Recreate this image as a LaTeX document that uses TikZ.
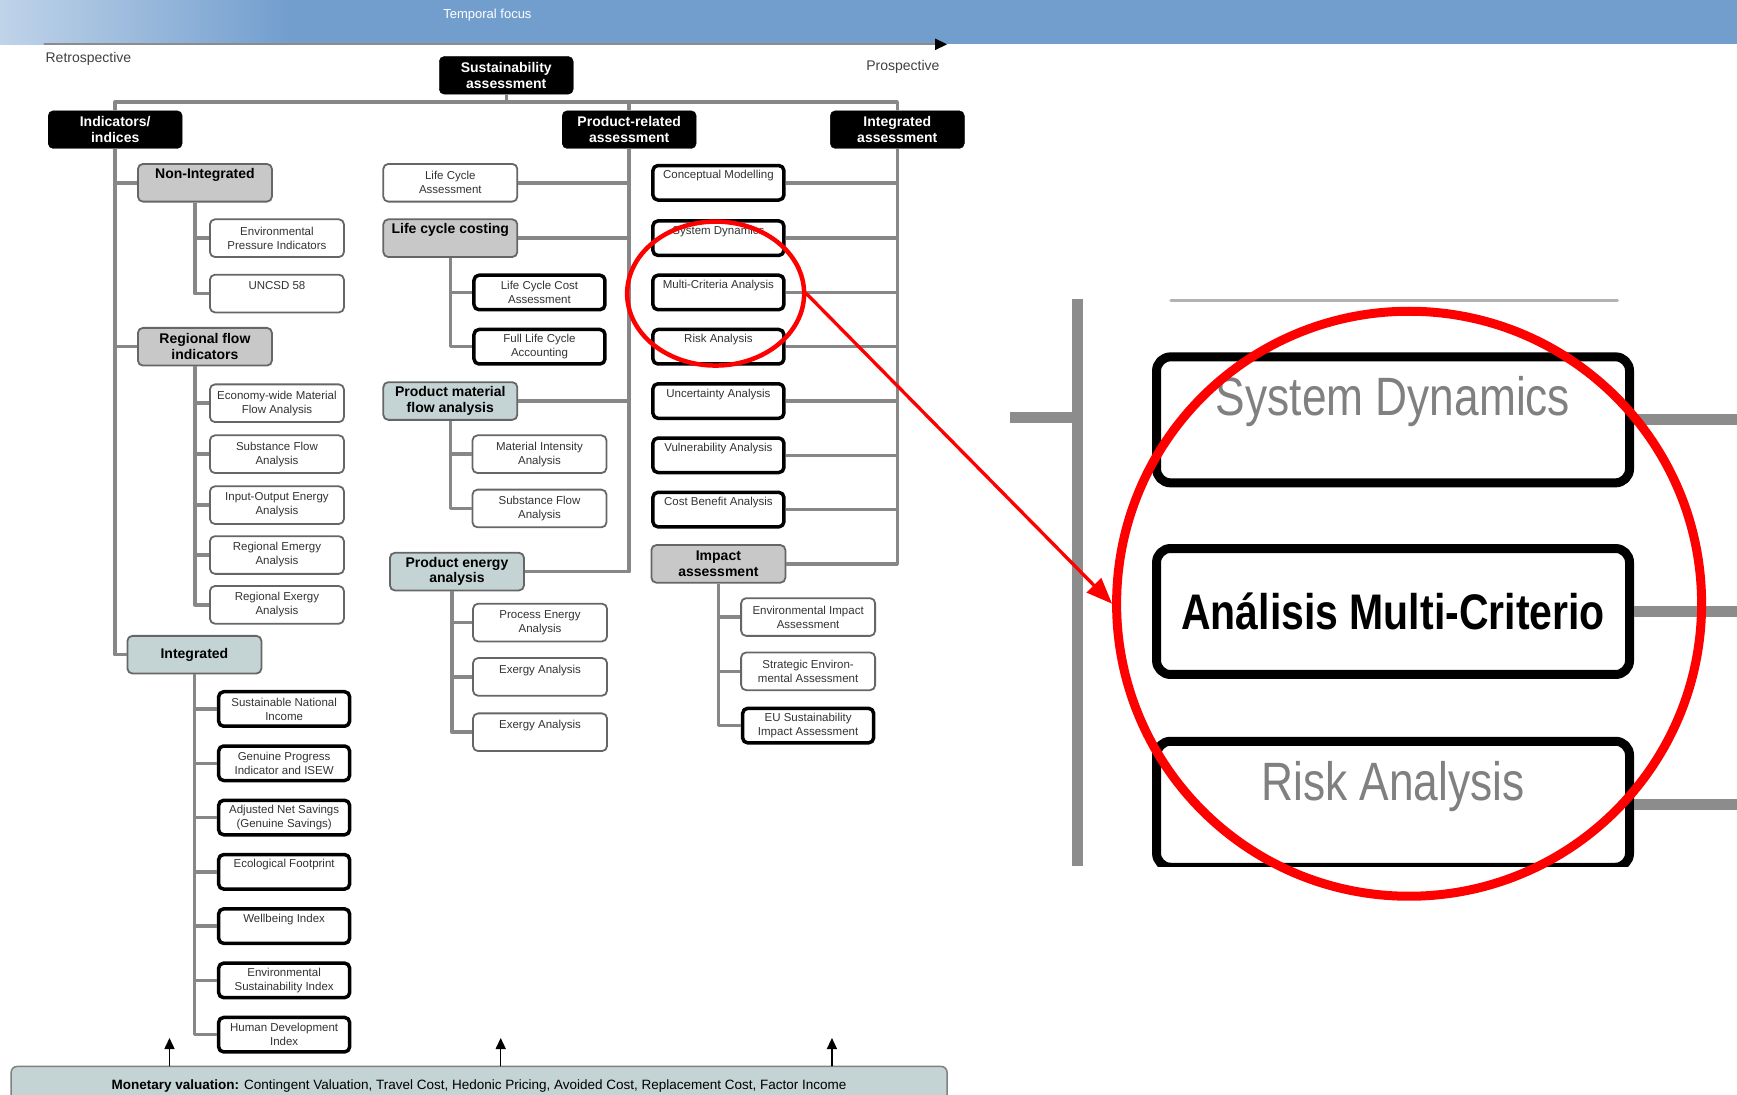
\documentclass[tikz,border=0pt]{standalone}
\usepackage{fontspec}
\setmainfont{Liberation Sans}
\newfontfamily\narrowsans[FakeStretch=0.82]{Liberation Sans}
\usetikzlibrary{arrows.meta}
\usetikzlibrary{positioning}
\usetikzlibrary{shapes.geometric}
\definecolor{skyblue}{RGB}{114,158,206}
\definecolor{boxgray}{RGB}{200,200,200}
\definecolor{boxteal}{RGB}{196,212,212}
\definecolor{linegray}{RGB}{135,135,135}

\begin{document}
\begin{tikzpicture}[line cap=round,line join=round,x=1.1078pt,y=-1.1078pt,
  hdr/.style={draw=black,fill=black,rounded corners=5pt,text=white,align=center,font=\bfseries\fontsize{14}{16.5}\selectfont,minimum width=134pt,minimum height=37.7pt,inner sep=1pt},
  lbox/.style={draw=black!60,line width=1.8pt,fill=white,rounded corners=5pt,text=black!80,align=center,font=\fontsize{11.5}{14}\selectfont,minimum width=134pt,minimum height=37.7pt,inner sep=1pt},
  kbox/.style={lbox,draw=black,line width=3.5pt,minimum width=131pt,minimum height=34.5pt},
  gbox/.style={lbox,fill=boxgray,text=black,font=\bfseries\fontsize{14}{15.5}\selectfont},
  tbox/.style={gbox,fill=boxteal},
  ontop/.style={text depth=16pt},
  ontopb/.style={text depth=18.5pt},
  conn/.style={draw=linegray,line width=3.5pt,line cap=butt},
  upar/.style={line width=1.5pt,-{Triangle[length=11pt,width=10pt]}},
  zbox/.style={draw=black,line width=9pt,fill=white,rounded corners=14pt,minimum width=473pt,minimum height=126pt,inner sep=0pt},
  zconn/.style={draw=black!45,line width=11pt,line cap=butt}]
\clip(0,0) rectangle (1568,988);
\fill[skyblue] (0,0) rectangle (1568,40);
\shade[left color=white!55!skyblue,right color=skyblue,draw=none] (0,0) rectangle (260,40);
\node[font=\fontsize{13}{15}\selectfont,text=white] (tfocus) at (440,14) {Temporal focus};
\coordinate (tl0) at (40,40);
\coordinate (tl1) at (855,40);
\draw[line width=2pt,black!45,-{Triangle[length=12pt,width=11pt,color=black]}] (tl0) -- (tl1);
\node[font=\fontsize{14}{16}\selectfont,text=black!75,anchor=west] (retro) at (38,53) {Retrospective};
\node[font=\fontsize{14}{16}\selectfont,text=black!75] (prosp) at (815,60) {Prospective};

\node[hdr] (sust) at (457,68) {Sustainability\\assessment};
\node[hdr] (ind) at (104,117) {Indicators/\\indices};
\node[hdr] (prod) at (568,117) {Product-related\\assessment};
\node[hdr] (inta) at (810,117) {Integrated\\assessment};
\coordinate (bus) at (457,92);
\draw[conn] (sust.south) -- (bus);
\draw[conn] (ind.north) |- (bus) -| (inta.north);
\draw[conn] (prod.north) -- (prod.north |- bus);

\node[gbox,ontopb] (nonint) at (185,165) {Non-Integrated};
\node[lbox] (epi) at (250,215) {Environmental\\Pressure Indicators};
\node[lbox,ontop] (uncsd) at (250,265) {UNCSD 58};
\node[gbox] (rfi) at (185,313) {Regional flow\\indicators};
\node[lbox] (ewmfa) at (250,364) {Economy-wide Material\\Flow Analysis};
\node[lbox] (sfa) at (250,410) {Substance Flow\\Analysis};
\node[lbox] (ioea) at (250,456) {Input-Output Energy\\Analysis};
\node[lbox] (rema) at (250,501) {Regional Emergy\\Analysis};
\node[lbox] (rexa) at (250,546) {Regional Exergy\\Analysis};
\node[tbox] (integ) at (175.5,591) {Integrated};
\node[kbox] (sni) at (256.5,640) {Sustainable National\\Income};
\node[kbox] (gpi) at (256.5,689) {Genuine Progress\\Indicator and ISEW};
\node[kbox] (ans) at (256.5,738) {Adjusted Net Savings\\(Genuine Savings)};
\node[kbox,ontop] (ef) at (256.5,787) {Ecological Footprint};
\node[kbox,ontop] (wbi) at (256.5,836) {Wellbeing Index};
\node[kbox] (esi) at (256.5,885) {Environmental\\Sustainability Index};
\node[kbox] (hdi) at (256.5,934) {Human Development\\Index};
\draw[conn] (ind.south) |- (integ.west);
\draw[conn] (ind.south |- nonint.west) -- (nonint.west);
\draw[conn] (ind.south |- rfi.west) -- (rfi.west);
\coordinate (nib) at ([xshift=-10pt]nonint.south);
\draw[conn] (nib) |- (uncsd.west);
\draw[conn] (nib |- epi.west) -- (epi.west);
\coordinate (rib) at ([xshift=-10pt]rfi.south);
\draw[conn] (rib) |- (rexa.west);
\draw[conn] (rib |- ewmfa.west) -- (ewmfa.west);
\draw[conn] (rib |- sfa.west) -- (sfa.west);
\draw[conn] (rib |- ioea.west) -- (ioea.west);
\draw[conn] (rib |- rema.west) -- (rema.west);
\draw[conn] (integ.south) |- (hdi.west);
\draw[conn] (integ.south |- sni.west) -- (sni.west);
\draw[conn] (integ.south |- gpi.west) -- (gpi.west);
\draw[conn] (integ.south |- ans.west) -- (ans.west);
\draw[conn] (integ.south |- ef.west) -- (ef.west);
\draw[conn] (integ.south |- wbi.west) -- (wbi.west);
\draw[conn] (integ.south |- esi.west) -- (esi.west);

\node[lbox] (lca) at (406.5,165) {Life Cycle\\Assessment};
\node[gbox,ontopb] (lcc) at (406.5,215) {Life cycle costing};
\node[kbox] (lcca) at (487,264) {Life Cycle Cost\\Assessment};
\node[kbox] (flca) at (487,313) {Full Life Cycle\\Accounting};
\node[tbox] (pmfa) at (406.5,362) {Product material\\flow analysis};
\node[lbox] (mia) at (487,410) {Material Intensity\\Analysis};
\node[lbox] (psfa) at (487,459) {Substance Flow\\Analysis};
\node[tbox] (pea) at (412.5,516) {Product energy\\analysis};
\node[lbox] (pena) at (487.5,562) {Process Energy\\Analysis};
\node[lbox,ontop] (exa) at (487.5,611) {Exergy Analysis};
\node[lbox,ontop] (exb) at (487.5,661) {Exergy Analysis};
\draw[conn] (prod.south) |- (pea.east);
\draw[conn] (lca.east) -- (lca.east -| prod.south);
\draw[conn] (lcc.east) -- (lcc.east -| prod.south);
\draw[conn] (pmfa.east) -- (pmfa.east -| prod.south);
\draw[conn] (lcc.south) |- (flca.west);
\draw[conn] (lcc.south |- lcca.west) -- (lcca.west);
\draw[conn] (pmfa.south) |- (psfa.west);
\draw[conn] (pmfa.south |- mia.west) -- (mia.west);
\coordinate (peb) at ([xshift=-5pt]pea.south);
\draw[conn] (peb) |- (exb.west);
\draw[conn] (peb |- pena.west) -- (pena.west);
\draw[conn] (peb |- exa.west) -- (exa.west);

\node[kbox,ontop] (cm) at (648.5,165) {Conceptual Modelling};
\node[kbox,ontop] (sd) at (648.5,215) {System Dynamics};
\node[kbox,ontop] (mca) at (648.5,264) {Multi-Criteria Analysis};
\node[kbox,ontop] (ra) at (648.5,313) {Risk Analysis};
\node[kbox,ontop] (ua) at (648.5,362) {Uncertainty Analysis};
\node[kbox,ontop] (va) at (648.5,411) {Vulnerability Analysis};
\node[kbox,ontop] (cba) at (648.5,460) {Cost Benefit Analysis};
\node[gbox] (ia) at (648.5,509) {Impact\\assessment};
\node[lbox] (eia) at (729.5,557) {Environmental Impact\\Assessment};
\node[lbox] (sea) at (729.5,606) {Strategic Environ-\\mental Assessment};
\node[kbox] (eusia) at (729.5,655) {EU Sustainability\\Impact Assessment};
\draw[conn] (inta.south) |- (ia.east);
\draw[conn] (cm.east) -- (cm.east -| inta.south);
\draw[conn] (sd.east) -- (sd.east -| inta.south);
\draw[conn] (mca.east) -- (mca.east -| inta.south);
\draw[conn] (ra.east) -- (ra.east -| inta.south);
\draw[conn] (ua.east) -- (ua.east -| inta.south);
\draw[conn] (va.east) -- (va.east -| inta.south);
\draw[conn] (cba.east) -- (cba.east -| inta.south);
\draw[conn] (ia.south) |- (eusia.west);
\draw[conn] (ia.south |- eia.west) -- (eia.west);
\draw[conn] (ia.south |- sea.west) -- (sea.west);

\node[draw=black!50,line width=1.5pt,fill=boxteal,rounded corners=6pt,anchor=north,minimum width=936pt,minimum height=40pt,font=\fontsize{13.5}{16}\selectfont] (money) at (432.5,962) {\textbf{Monetary valuation:} Contingent Valuation, Travel Cost, Hedonic Pricing, Avoided Cost, Replacement Cost, Factor Income};
\coordinate (upa) at (153,937);
\coordinate (upb) at (452,937);
\coordinate (upc) at (751,937);
\draw[upar] (upa |- money.north) -- (upa);
\draw[upar] (upb |- money.north) -- (upb);
\draw[upar] (upc |- money.north) -- (upc);

\begin{scope}
\clip (900,260) rectangle (1568,782);
\coordinate (ztop) at (973,270);
\coordinate (zbot) at (973,782);
\coordinate (zleft) at (912,377);
\coordinate (zedge) at (1568,0);
\draw[zconn] (ztop) -- (zbot);
\draw[zconn] (zleft) -- (zleft -| ztop);
\draw[black!30,line width=3pt] (1057,271) -- (1460,271);
\node[zbox,text=black!50,text depth=47pt,font=\narrowsans\fontsize{54}{60}\selectfont] (zsd) at (1257.5,379) {System Dynamics};
\node[zbox,font=\narrowsans\bfseries\fontsize{50}{60}\selectfont] (zamc) at (1257.5,552) {Análisis Multi-Criterio};
\node[zbox,text=black!50,text depth=47pt,font=\narrowsans\fontsize{54}{60}\selectfont] (zra) at (1257.5,726) {Risk Analysis};
\draw[zconn] (zsd.east) -- (zsd.east -| zedge);
\draw[zconn] (zamc.east) -- (zamc.east -| zedge);
\draw[zconn] (zra.east) -- (zra.east -| zedge);
\end{scope}

\node[draw=red,line width=4.5pt,ellipse,minimum width=177pt,minimum height=144pt] (hl) at (646,265) {};
\node[draw=red,line width=9pt,circle,minimum size=585pt] (bigc) at (1272,545) {};
\draw[red,line width=3.3pt,-{Triangle[length=26pt,width=20pt]}] (hl.east) -- (bigc.west);
\end{tikzpicture}
\end{document}
